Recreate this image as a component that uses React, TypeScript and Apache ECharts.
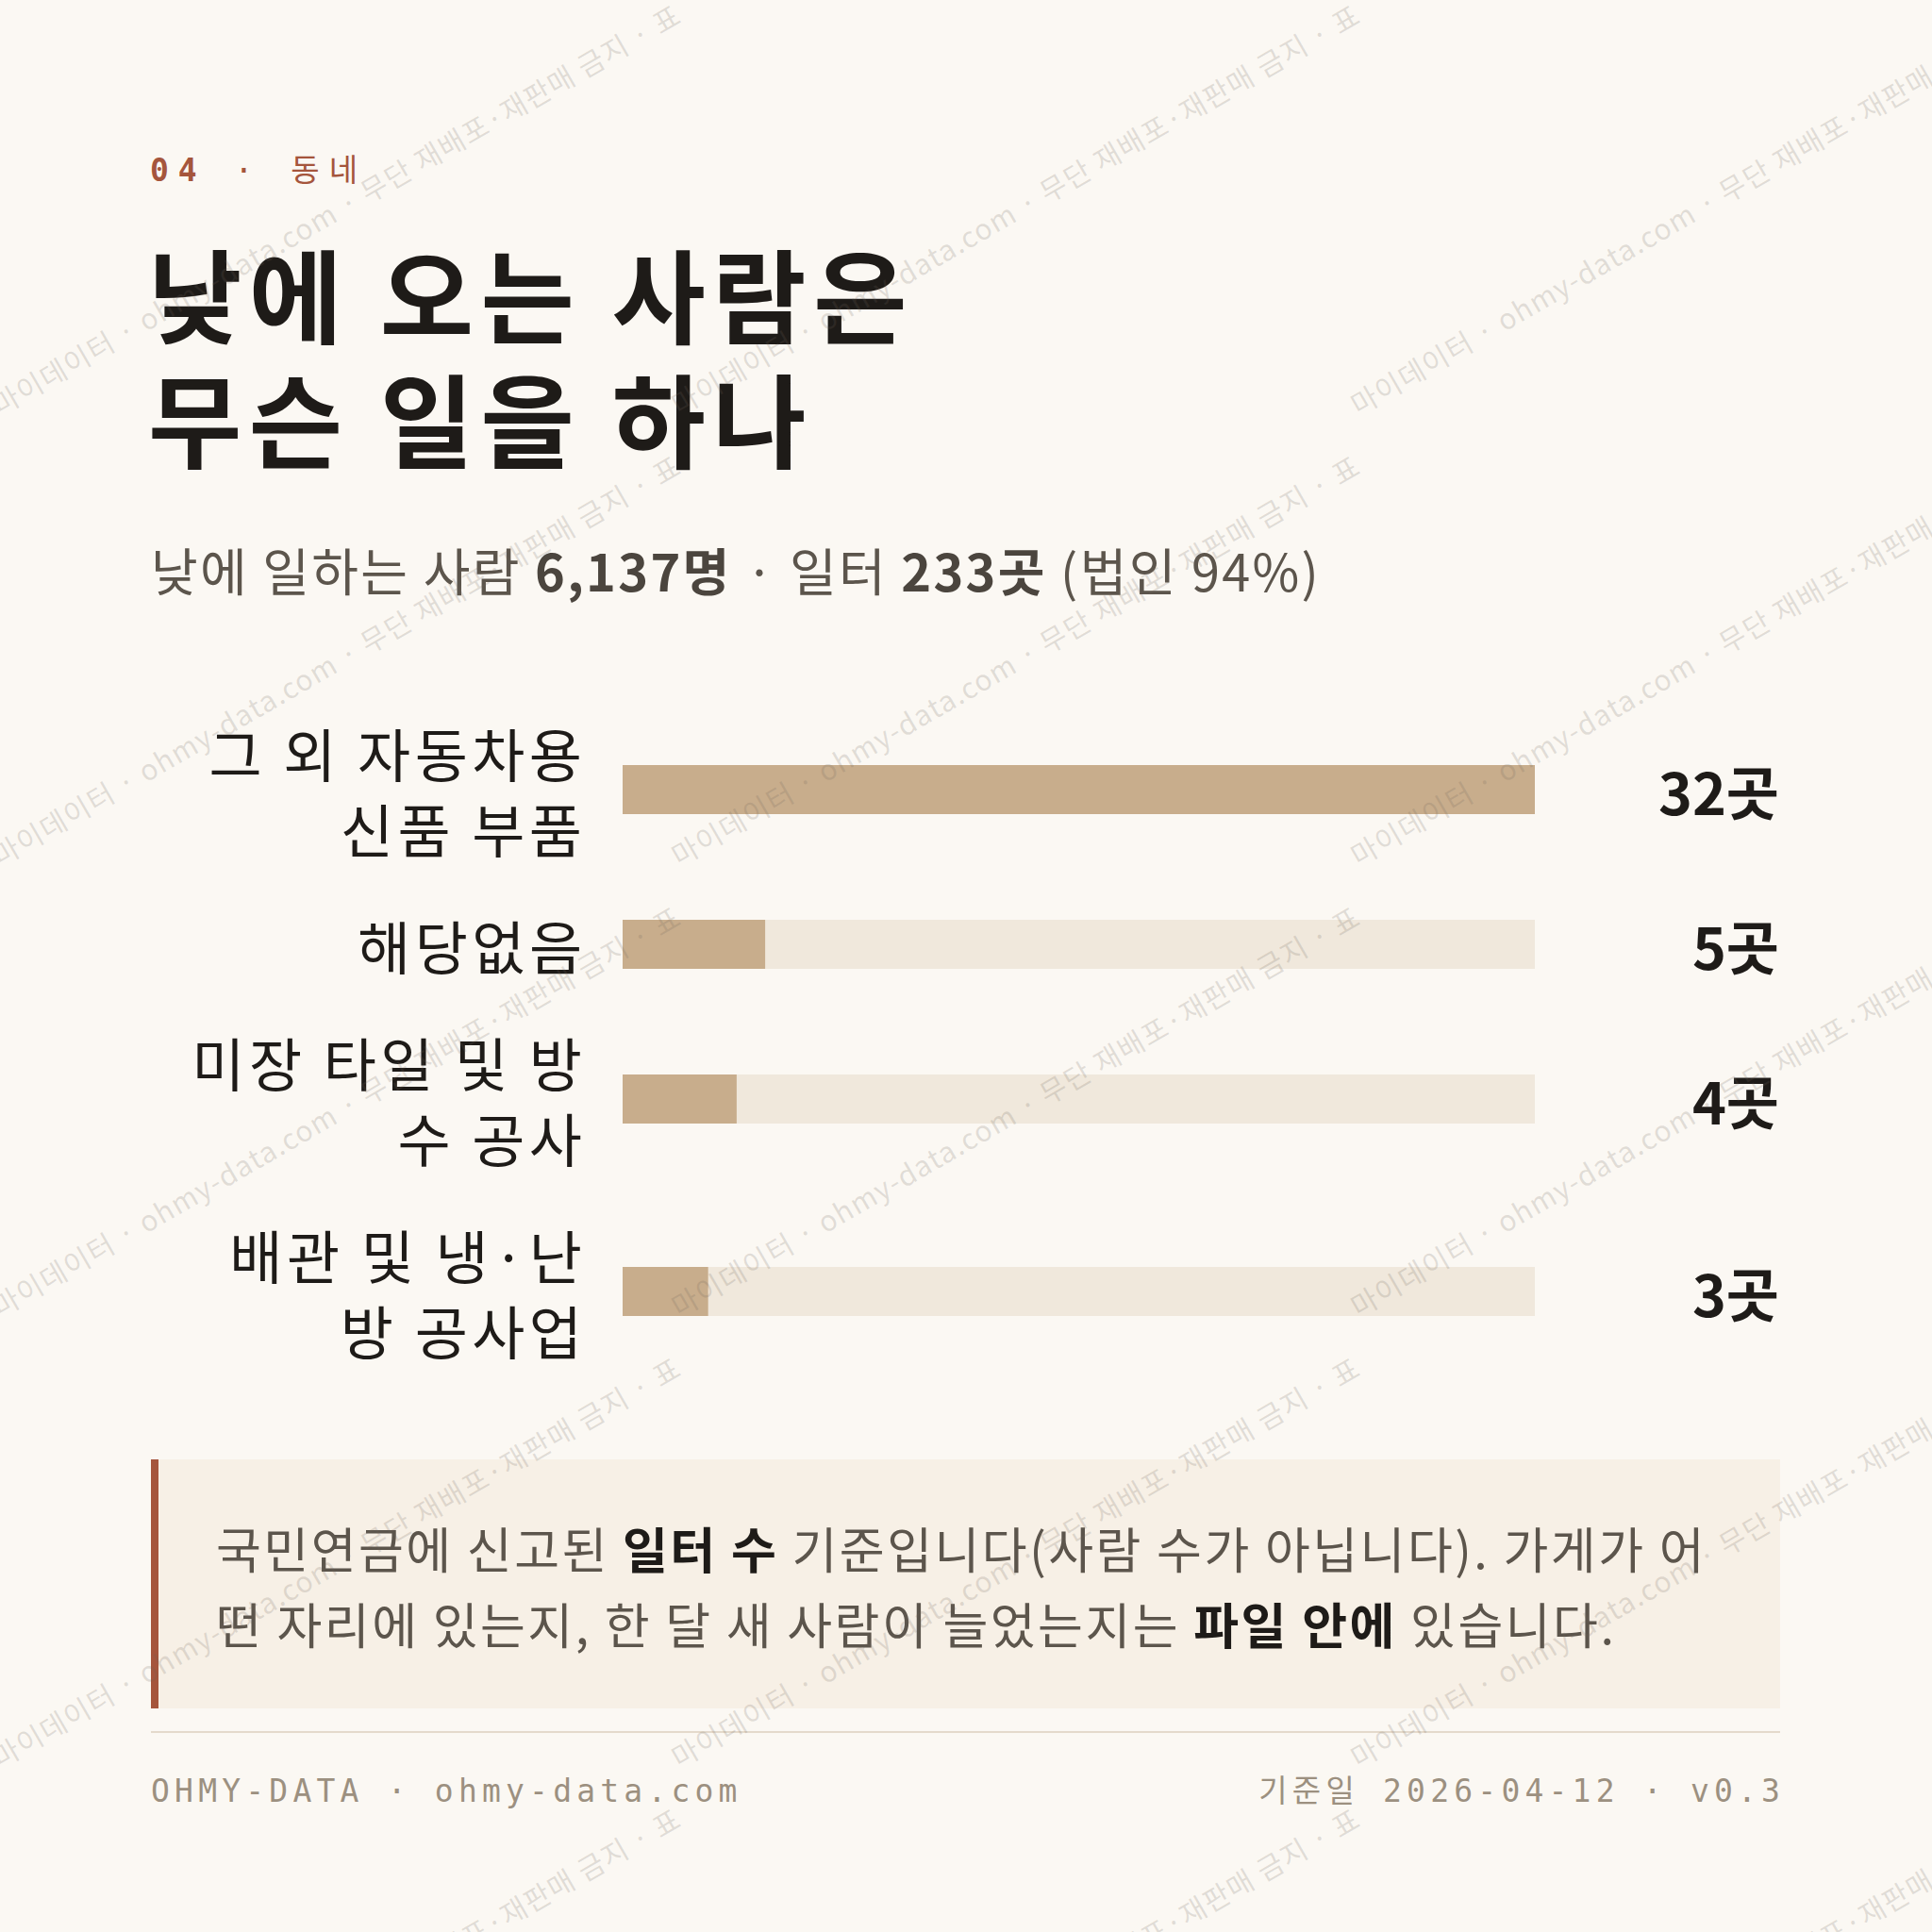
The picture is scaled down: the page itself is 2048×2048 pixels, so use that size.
import React, { useEffect, useRef } from "react";
import * as echarts from "echarts";

// ---------- data ----------
const categories = ["그 외 자동차용\n신품 부품", "해당없음", "미장 타일 및 방\n수 공사", "배관 및 냉·난\n방 공사업"];
const counts = [32, 5, 4, 3];
const unit = "곳";

const kickerNum = "04";
const kickerText = " · 동네";
const titleText = "낮에 오는 사람은\n무슨 일을 하나";
const subtitleParts: [string, string][] = [
  ["n", "낮에 일하는 사람 "],
  ["b", "6,137명"],
  ["n", " · 일터 "],
  ["b", "233곳"],
  ["n", " (법인 94%)"],
];
const noteLines: [string, string][][] = [
  [["n", "국민연금에 신고된 "], ["b", "일터 수"], ["n", " 기준입니다(사람 수가 아닙니다). 가게가 어"]],
  [["n", "떤 자리에 있는지, 한 달 새 사람이 늘었는지는 "], ["b", "파일 안에"], ["n", " 있습니다."]],
];
const footerLeft = "OHMY-DATA · ohmy-data.com";
const footerRight = "기준일 2026-04-12 · v0.3";
const watermarkText = "마이데이터 · ohmy-data.com · 무단 재배포·재판매 금지 · 표";

// ---------- style ----------
const BG = "#fbf8f3";
const INK = "#1e1b18";
const MUTED = "#5c554c";
const ACCENT = "#a5553c";
const BAR = "#c8ad8c";
const TRACK = "#f0e8dc";
const KRBASE = "'Noto Sans CJK KR', 'Noto Sans', sans-serif";
const MONOBASE = "'DejaVu Sans Mono', 'Noto Sans CJK KR', monospace";

// letter-spacing per text role (applied with CSS on the SVG text nodes)
const LS: Record<string, number> = {
  lsTitle: 7.5,
  lsSub: 2.3,
  lsLabel: 4.5,
  lsVal: 0,
  lsNote: 2.5,
  lsKick: 10,
  lsFoot: 5.2,
  lsMark: 1.3,
};
const fam = (tag: string, base: string) => `${tag}, ${base}`;
const css = Object.keys(LS)
  .map((k) => `#root svg text[style*="${k}"]{letter-spacing:${LS[k]}px;}`)
  .join("\n");

let measureCtx: CanvasRenderingContext2D | null = null;
function measure(text: string, size: number, weight: string, family: string) {
  if (!measureCtx) measureCtx = document.createElement("canvas").getContext("2d");
  measureCtx!.font = `${weight} ${size}px ${family}`;
  return measureCtx!.measureText(text).width;
}

// lays out a row of styled segments left to right, honouring letter-spacing
function segmentRow(
  segs: { text: string; size: number; weight: string; tag: string; base: string; color: string }[],
  x: number,
  y: number,
  vAlign: string
) {
  const els: any[] = [];
  let cx = x;
  segs.forEach((s) => {
    const family = fam(s.tag, s.base);
    const ls = LS[s.tag];
    const m = s.text.match(/^ */);
    const lead = m ? m[0].length : 0;
    const body = s.text.slice(lead);
    const leadW = lead ? measure(" ".repeat(lead), s.size, s.weight, family) + ls * lead : 0;
    const bodyW = measure(body, s.size, s.weight, family) + ls * Array.from(body).length;
    els.push({
      type: "text",
      x: cx + leadW,
      y,
      z: 10,
      style: {
        text: body.replace(/ +$/, ""),
        fontSize: s.size,
        fontWeight: s.weight,
        fontFamily: family,
        fill: s.color,
        textAlign: "left",
        align: "left",
        textVerticalAlign: vAlign,
        verticalAlign: vAlign,
      },
    });
    cx += leadW + bodyW;
  });
  return { els, endX: cx };
}

export default function App() {
  const ref = useRef<HTMLDivElement>(null);

  useEffect(() => {
    document.body.style.margin = "0";
    const chart = echarts.init(ref.current!, null, { renderer: "svg" });

    // ----- rows laid out by number of label lines -----
    const LINE_H = 80;
    const GAP = 44;
    const TOP0 = 757;
    const LEFT = 660;
    const RIGHT = 2048 - 1627;
    const maxV = Math.max(...counts);

    const grids: any[] = [];
    const xAxes: any[] = [];
    const yAxes: any[] = [];
    const series: any[] = [];
    let top = TOP0;
    categories.forEach((cat, i) => {
      const h = cat.split("\n").length * LINE_H;
      grids.push({ left: LEFT, right: RIGHT, top, height: h, containLabel: false });
      top += h + GAP;
      xAxes.push({ type: "value", gridIndex: i, min: 0, max: maxV, show: false });
      yAxes.push({
        type: "category",
        gridIndex: i,
        data: [cat],
        axisLine: { show: false },
        axisTick: { show: false },
        splitLine: { show: false },
        axisLabel: {
          align: "right",
          margin: 43 - LS.lsLabel,
          fontSize: 61,
          lineHeight: LINE_H,
          color: INK,
          fontFamily: fam("lsLabel", KRBASE),
        },
      });
      yAxes.push({
        type: "category",
        gridIndex: i,
        position: "right",
        data: [counts[i] + unit],
        axisLine: { show: false },
        axisTick: { show: false },
        splitLine: { show: false },
        axisLabel: {
          align: "right",
          margin: 1886 - 1627,
          fontSize: 61,
          fontWeight: "bold",
          color: INK,
          fontFamily: fam("lsVal", KRBASE),
        },
      });
      series.push({
        type: "bar",
        xAxisIndex: i,
        yAxisIndex: i * 2,
        data: [counts[i]],
        barWidth: 52,
        itemStyle: { color: BAR },
        showBackground: true,
        backgroundStyle: { color: TRACK },
        silent: true,
      });
    });

    // ----- graphic texts -----
    const graphics: any[] = [];

    // kicker
    const kick = segmentRow(
      [
        { text: kickerNum, size: 33, weight: "bold", tag: "lsKick", base: MONOBASE, color: ACCENT },
        { text: kickerText, size: 33, weight: "normal", tag: "lsKick", base: MONOBASE, color: ACCENT },
      ],
      159,
      180,
      "middle"
    );
    graphics.push(...kick.els);

    // title
    graphics.push({
      type: "text",
      x: 157,
      y: 243,
      z: 10,
      style: {
        text: titleText,
        fontSize: 108,
        fontWeight: "bold",
        fontFamily: fam("lsTitle", KRBASE),
        lineHeight: 132,
        fill: INK,
        textVerticalAlign: "top",
        verticalAlign: "top",
      },
    });

    // subtitle
    const sub = segmentRow(
      subtitleParts.map(([k, t]) => ({
        text: t,
        size: 54,
        weight: k === "b" ? "bold" : "normal",
        tag: "lsSub",
        base: KRBASE,
        color: k === "b" ? "#4b453e" : MUTED,
      })),
      160,
      603,
      "middle"
    );
    graphics.push(...sub.els);

    // note box
    graphics.push({
      type: "rect",
      shape: { x: 160, y: 1547, width: 1727, height: 264 },
      style: { fill: "#f7f0e6" },
      z: 1,
    });
    graphics.push({
      type: "rect",
      shape: { x: 160, y: 1547, width: 8, height: 264 },
      style: { fill: ACCENT },
      z: 2,
    });
    noteLines.forEach((line, li) => {
      const row = segmentRow(
        line.map(([k, t]) => ({
          text: t,
          size: 52,
          weight: k === "b" ? "bold" : "normal",
          tag: "lsNote",
          base: KRBASE,
          color: k === "b" ? INK : MUTED,
        })),
        229,
        1640 + li * 80,
        "middle"
      );
      graphics.push(...row.els);
    });

    // divider
    graphics.push({
      type: "line",
      shape: { x1: 160, y1: 1836, x2: 1887, y2: 1836 },
      style: { stroke: "#e4dacc", lineWidth: 2 },
      z: 2,
    });

    // footer
    const footFam = fam("lsFoot", MONOBASE);
    graphics.push({
      type: "text",
      x: 160,
      y: 1898,
      z: 10,
      style: {
        text: footerLeft,
        fontSize: 33,
        fontFamily: footFam,
        fill: "#9c9080",
        textAlign: "left",
        align: "left",
        textVerticalAlign: "middle",
        verticalAlign: "middle",
      },
    });
    graphics.push({
      type: "text",
      x: 1887 + LS.lsFoot,
      y: 1898,
      z: 10,
      style: {
        text: footerRight,
        fontSize: 33,
        fontFamily: footFam,
        fill: "#9c9080",
        textAlign: "right",
        align: "right",
        textVerticalAlign: "middle",
        verticalAlign: "middle",
      },
    });

    // watermark tiles (720 x 478 repeat, text rising from each tile's lower-left)
    for (let r = 1; r <= 5; r++) {
      for (let c = 0; c <= 2; c++) {
        graphics.push({
          type: "text",
          x: 1 + c * 720,
          y: -35 + r * 478,
          rotation: Math.PI / 6,
          z: 100,
          silent: true,
          style: {
            text: watermarkText,
            fontSize: 30,
            fontFamily: fam("lsMark", KRBASE),
            fill: "rgba(110,100,90,0.19)",
            textVerticalAlign: "bottom",
            verticalAlign: "bottom",
          },
        });
      }
    }

    chart.setOption({
      animation: false,
      backgroundColor: BG,
      grid: grids,
      xAxis: xAxes,
      yAxis: yAxes,
      series,
      graphic: { elements: graphics },
    });

    return () => chart.dispose();
  }, []);

  return (
    <>
      <style>{css}</style>
      <div ref={ref} style={{ width: 2048, height: 2048 }} />
    </>
  );
}
